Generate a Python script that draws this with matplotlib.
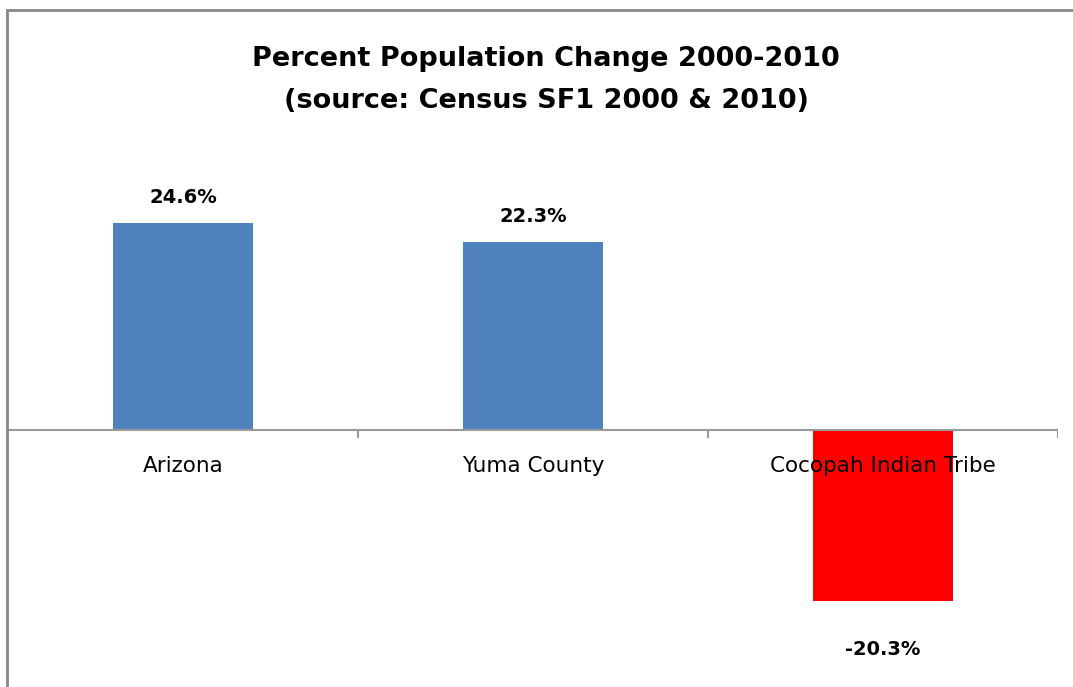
import matplotlib.pyplot as plt
from matplotlib.patches import Rectangle

categories = ['Arizona', 'Yuma County', 'Cocopah Indian Tribe']
pct_change = [24.6, 22.3, -20.3]
bar_colors = ['#4F81BD', '#4F81BD', '#FF0000']
labels = ['24.6%', '22.3%', '-20.3%']

W, H = 1073, 687
fig = plt.figure(figsize=(W / 100, H / 100), dpi=100)

# chart area border (cut off at right and bottom)
fig.patches.append(Rectangle((7 / W, -0.1), 1.2, (H - 10) / H + 0.1,
                             transform=fig.transFigure, fill=False,
                             edgecolor='#868686', linewidth=2))

ax = fig.add_axes([8 / W, 0.0, 1050 / W, (H - 130) / H])
x = list(range(len(categories)))
ax.bar(x, pct_change, width=0.4, color=bar_colors, zorder=1)
ax.set_xlim(-0.5, len(categories) - 0.5)
ax.set_ylim(-257 / 8.41, 300 / 8.41)

ax.axhline(0, color='#999999', linewidth=1.5, zorder=2)
for b in [0.5, 1.5, 2.5]:
    ax.plot([b, b], [0, -0.8], color='#999999', linewidth=1.5, zorder=2)

for xi, name in zip(x, categories):
    ax.text(xi, -4.3, name, ha='center', va='center', fontsize=15.5, zorder=3)

for xi, v, lab in zip(x, pct_change, labels):
    if v >= 0:
        ax.text(xi, v + 3.1, lab, ha='center', va='center',
                fontsize=14, fontweight='bold')
    else:
        ax.text(xi, v - 5.8, lab, ha='center', va='center',
                fontsize=14, fontweight='bold')

ax.axis('off')

fig.text(546 / W, 1 - 80 / H,
         'Percent Population Change 2000-2010\n(source: Census SF1 2000 & 2010)',
         ha='center', va='center', fontsize=19.5, fontweight='bold',
         linespacing=1.85)

fig.savefig('out.png', dpi=100)
